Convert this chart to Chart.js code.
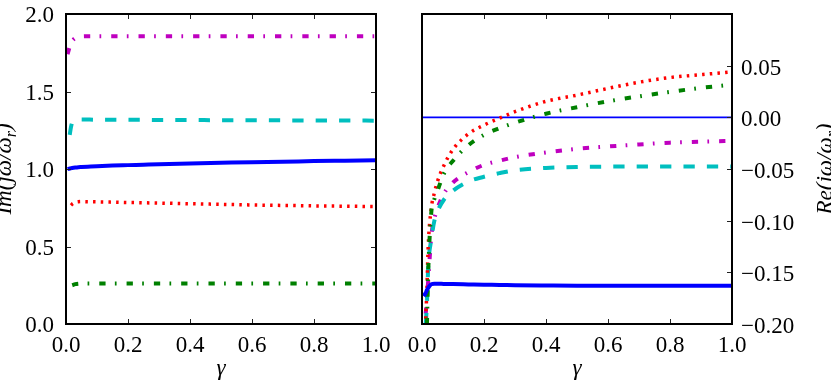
<!DOCTYPE html>
<html>
<head>
<meta charset="utf-8">
<script src="https://cdn.jsdelivr.net/npm/chart.js@4.4.1/dist/chart.umd.min.js"></script>
<style>
  html, body { margin: 0; padding: 0; background: #fff; }
  #wrap { position: relative; width: 831px; height: 388px; overflow: hidden; }
  #imChart { position: absolute; left: 0; top: 0; }
  #reChart { position: absolute; left: 400px; top: 0; }
</style>
</head>
<body>
<div id="wrap">
  <canvas id="imChart" width="400" height="388"></canvas>
  <canvas id="reChart" width="431" height="388"></canvas>
</div>
<script>
// Sampled gamma values shared by every curve
const gamma = [0.005, 0.012, 0.016, 0.02, 0.03, 0.04, 0.05, 0.07, 0.1, 0.15, 0.2, 0.25, 0.3, 0.4, 0.5, 0.6, 0.7, 0.8, 0.9, 1.0];

// Left panel: Im(jw/wr)
const imBlue    = [1.0, 1.003, 1.005, 1.007, 1.01, 1.012, 1.013, 1.015, 1.018, 1.022, 1.025, 1.028, 1.031, 1.036, 1.040, 1.044, 1.047, 1.051, 1.054, 1.057];
const imGreen   = [null, null, null, 0.25, 0.257, 0.26, 0.261, 0.262, 0.262, 0.262, 0.262, 0.262, 0.262, 0.262, 0.262, 0.262, 0.262, 0.262, 0.262, 0.262];
const imRed     = [null, null, 0.766, 0.774, 0.785, 0.789, 0.790, 0.789, 0.788, 0.786, 0.784, 0.782, 0.780, 0.776, 0.772, 0.768, 0.765, 0.762, 0.760, 0.757];
const imCyan    = [null, 1.22, 1.27, 1.30, 1.318, 1.320, 1.320, 1.319, 1.318, 1.318, 1.317, 1.317, 1.316, 1.316, 1.315, 1.315, 1.314, 1.313, 1.313, 1.312];
const imMagenta = [1.74, 1.79, 1.81, 1.826, 1.845, 1.852, 1.855, 1.856, 1.856, 1.856, 1.856, 1.856, 1.856, 1.856, 1.856, 1.856, 1.856, 1.856, 1.856, 1.856];

// Right panel: Re(jw/wr)
const reBlue    = [-0.173, -0.170, -0.167, -0.165, -0.1615, -0.161, -0.161, -0.1612, -0.1614, -0.1617, -0.162, -0.1622, -0.1625, -0.1628, -0.163, -0.163, -0.163, -0.163, -0.163, -0.163];
const reGreen   = [null, null, -0.2, -0.15, -0.092, -0.079, -0.071, -0.055, -0.042, -0.027, -0.017, -0.0105, -0.0052, 0.0035, 0.0098, 0.0155, 0.0203, 0.0246, 0.0285, 0.0317];
const reRed     = [null, -0.195, -0.165, -0.125, -0.088, -0.073, -0.062, -0.047, -0.031, -0.016, -0.0075, -0.0008, 0.0055, 0.0155, 0.0215, 0.028, 0.034, 0.0385, 0.0413, 0.044];
const reCyan    = [null, -0.2, -0.18, -0.145, -0.118, -0.1, -0.091, -0.08, -0.071, -0.062, -0.0575, -0.054, -0.0512, -0.049, -0.048, -0.0477, -0.0476, -0.0476, -0.0476, -0.0477];
const reMagenta = [null, -0.19, -0.175, -0.158, -0.115, -0.098, -0.088, -0.074, -0.063, -0.053, -0.046, -0.042, -0.0385, -0.034, -0.0305, -0.0282, -0.0263, -0.0245, -0.0236, -0.0228];
const zeroGamma = [0, 1];
const zeroRe    = [0, 0];

// Axis tick settings
const xTicks = { min: 0, max: 1, step: 0.2 };
const imTicks = { min: 0, max: 2, step: 0.5 };
const reTicks = { min: -0.2, max: 0.1, step: 0.05 };

const TICK_FONT = { family: "'Liberation Serif', serif", size: 23 };
const TITLE_FONT = "italic 23px 'Liberation Serif', serif";
const SUB_FONT = "italic 16px 'Liberation Serif', serif";
const TICK_LEN = 5;

const STYLES = {
  blue:    { borderColor: '#0000ff', borderWidth: 4, borderDash: [] },
  green:   { borderColor: '#008000', borderWidth: 4, borderDash: [6.3, 9.3, 1.7, 10] },
  red:     { borderColor: '#ff0000', borderWidth: 3.5, borderDash: [2.5, 5.2] },
  cyan:    { borderColor: '#00bfbf', borderWidth: 4, borderDash: [11.3, 12.1] },
  magenta: { borderColor: '#bf00bf', borderWidth: 4, borderDash: [6.3, 9.3, 1.7, 10] },
  zero:    { borderColor: '#0000ff', borderWidth: 1.8, borderDash: [] }
};

function toPoints(xs, ys) {
  return xs.map((x, i) => ({ x: x, y: ys[i] }));
}

function makeSet(xs, ys, style) {
  return Object.assign({
    data: toPoints(xs, ys),
    pointRadius: 0,
    fill: false,
    spanGaps: false,
    cubicInterpolationMode: 'monotone',
    borderCapStyle: 'butt'
  }, style);
}

function fmtRe(v) {
  if (Math.abs(v) < 1e-9) return '0.00';
  if (Math.abs(v - reTicks.max) < 1e-9) return '';
  return v.toFixed(2).replace('-', '\u2212');
}

// Inward tick marks on the chosen sides plus the black frame
const tickFrame = {
  id: 'tickFrame',
  afterDatasetsDraw(chart, args, opts) {
    const { ctx, chartArea: a } = chart;
    const xs = chart.scales.x, ys = chart.scales.y;
    ctx.save();
    ctx.strokeStyle = '#222';
    ctx.lineWidth = 1;
    ctx.beginPath();
    xs.ticks.forEach(t => {
      const p = Math.round(xs.getPixelForValue(t.value)) + 0.5;
      ctx.moveTo(p, a.bottom); ctx.lineTo(p, a.bottom - TICK_LEN);
      ctx.moveTo(p, a.top); ctx.lineTo(p, a.top + TICK_LEN);
    });
    ys.ticks.forEach(t => {
      if (t.label === '') return;
      const p = Math.round(ys.getPixelForValue(t.value)) + 0.5;
      if (opts.left) { ctx.moveTo(a.left, p); ctx.lineTo(a.left + TICK_LEN, p); }
      if (opts.right) { ctx.moveTo(a.right, p); ctx.lineTo(a.right - TICK_LEN, p); }
    });
    ctx.stroke();
    ctx.strokeStyle = '#000';
    ctx.lineWidth = 2;
    ctx.strokeRect(a.left, a.top, a.width, a.height);
    ctx.restore();
  }
};

// Italic math-style text with optional subscript
function drawMath(ctx, parts, x, y, rotated) {
  ctx.save();
  ctx.translate(x, y);
  if (rotated) ctx.rotate(-Math.PI / 2);
  ctx.fillStyle = '#000';
  ctx.textBaseline = 'alphabetic';
  ctx.textAlign = 'left';
  let total = 0;
  parts.forEach(p => {
    ctx.font = p.sub ? SUB_FONT : TITLE_FONT;
    p.w = ctx.measureText(p.t).width;
    total += p.w;
  });
  let cx = -total / 2;
  parts.forEach(p => {
    ctx.font = p.sub ? SUB_FONT : TITLE_FONT;
    ctx.fillText(p.t, cx, p.sub ? 5 : 0);
    cx += p.w;
  });
  ctx.restore();
}

const axisTitles = {
  id: 'axisTitles',
  afterDraw(chart, args, opts) {
    const { ctx, chartArea: a } = chart;
    drawMath(ctx, [{ t: '\u03b3' }], (a.left + a.right) / 2, 375, false);
    const midY = (a.top + a.bottom) / 2;
    drawMath(ctx, [{ t: opts.prefix + '(j\u03c9/\u03c9' }, { t: 'r', sub: true }, { t: ')' }], opts.x, midY, true);
  }
};

function xScale() {
  return {
    type: 'linear',
    min: xTicks.min,
    max: xTicks.max,
    ticks: {
      stepSize: xTicks.step,
      callback: v => v.toFixed(1),
      font: TICK_FONT,
      color: '#000',
      padding: 8,
      maxRotation: 0,
      autoSkip: false
    },
    grid: { display: false, drawTicks: false },
    border: { display: false },
    afterFit: s => { s.height = 64; s.paddingLeft = 0; s.paddingRight = 0; }
  };
}

function yFit(width) {
  return s => { s.width = width; s.paddingTop = 0; s.paddingBottom = 0; };
}

new Chart(document.getElementById('imChart'), {
  type: 'line',
  data: {
    datasets: [
      makeSet(gamma, imBlue, STYLES.blue),
      makeSet(gamma, imGreen, STYLES.green),
      makeSet(gamma, imRed, STYLES.red),
      makeSet(gamma, imCyan, STYLES.cyan),
      makeSet(gamma, imMagenta, STYLES.magenta)
    ]
  },
  options: {
    responsive: false,
    animation: false,
    devicePixelRatio: 1,
    layout: { padding: { top: 14, right: 24, left: 0, bottom: 0 } },
    plugins: {
      legend: { display: false },
      tooltip: { enabled: false },
      tickFrame: { left: true, right: true },
      axisTitles: { prefix: 'Im', x: 11 }
    },
    scales: {
      x: xScale(),
      y: {
        type: 'linear',
        min: imTicks.min,
        max: imTicks.max,
        ticks: {
          stepSize: imTicks.step,
          callback: v => v.toFixed(1),
          font: TICK_FONT,
          color: '#000',
          padding: 12,
          labelOffset: 2
        },
        grid: { display: false, drawTicks: false },
        border: { display: false },
        afterFit: yFit(66)
      }
    }
  },
  plugins: [tickFrame, axisTitles]
});

new Chart(document.getElementById('reChart'), {
  type: 'line',
  data: {
    datasets: [
      makeSet(gamma, reBlue, STYLES.blue),
      makeSet(gamma, reGreen, STYLES.green),
      makeSet(gamma, reRed, STYLES.red),
      makeSet(gamma, reCyan, STYLES.cyan),
      makeSet(gamma, reMagenta, STYLES.magenta),
      makeSet(zeroGamma, zeroRe, STYLES.zero)
    ]
  },
  options: {
    responsive: false,
    animation: false,
    devicePixelRatio: 1,
    layout: { padding: { top: 14, right: 0, left: 22, bottom: 0 } },
    plugins: {
      legend: { display: false },
      tooltip: { enabled: false },
      tickFrame: { left: false, right: true },
      axisTitles: { prefix: 'Re', x: 432 }
    },
    scales: {
      x: xScale(),
      y: {
        type: 'linear',
        position: 'right',
        min: reTicks.min,
        max: reTicks.max,
        ticks: {
          stepSize: reTicks.step,
          callback: fmtRe,
          font: TICK_FONT,
          color: '#000',
          padding: 9,
          labelOffset: 3
        },
        grid: { display: false, drawTicks: false },
        border: { display: false },
        afterFit: yFit(99)
      }
    }
  },
  plugins: [tickFrame, axisTitles]
});
</script>
</body>
</html>
